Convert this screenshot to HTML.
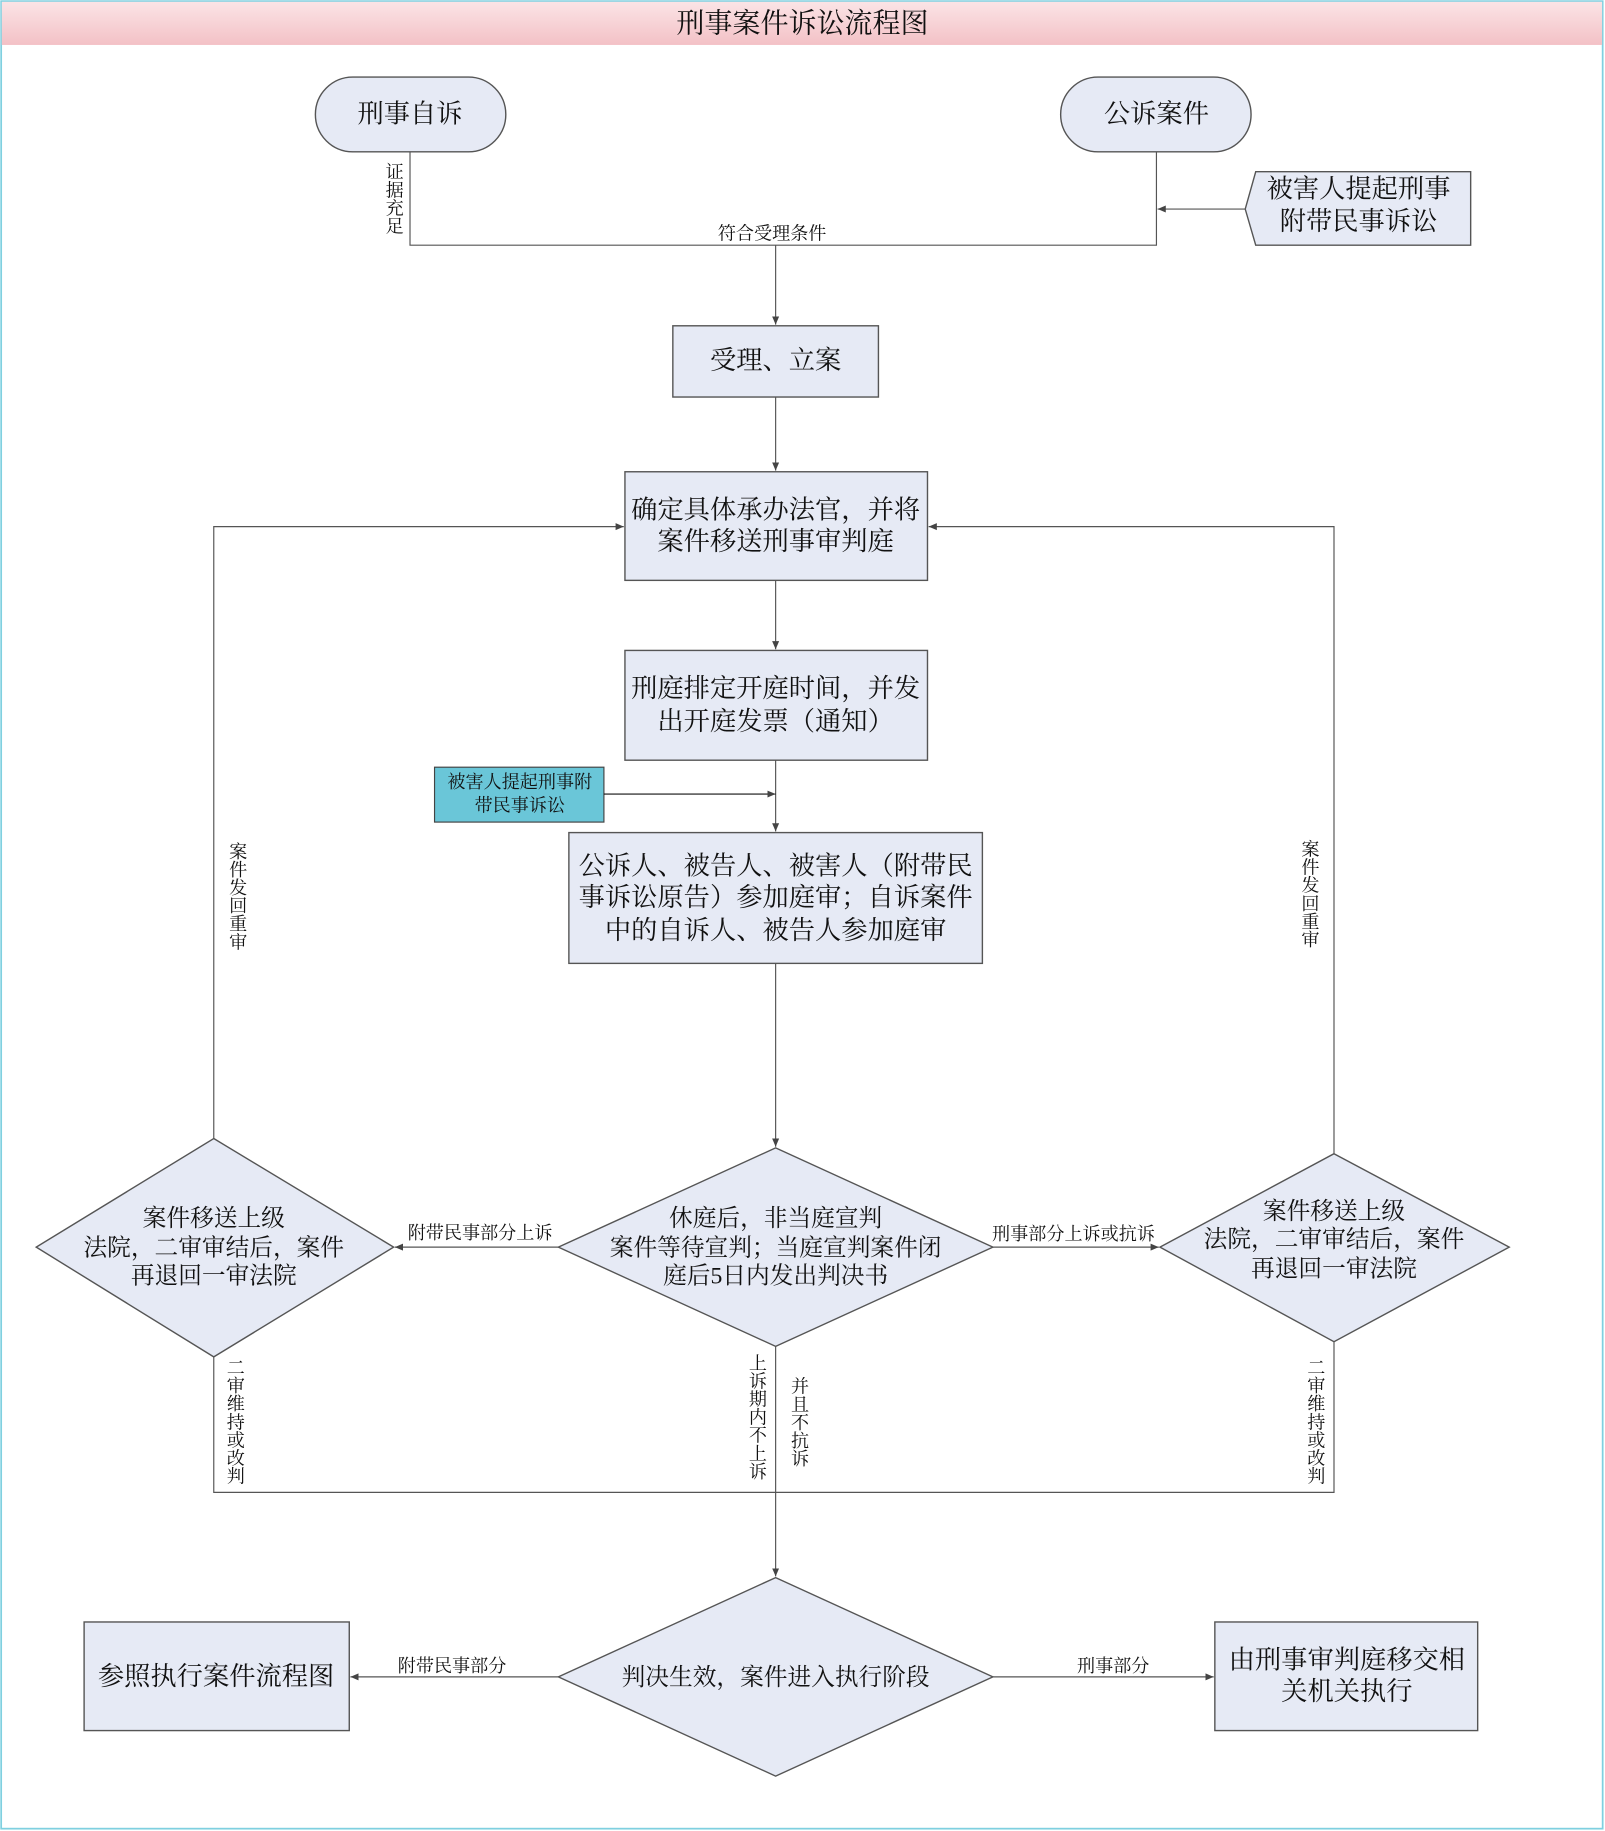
<!DOCTYPE html>
<html><head><meta charset="utf-8"><style>
html,body{margin:0;padding:0;background:#fff;}
svg{display:block}
text{font-family:"Liberation Serif","Noto Serif CJK SC",serif;fill:#111;}
.v{writing-mode:tb;letter-spacing:0px}
</style></head><body>
<svg width="1605" height="1831" viewBox="0 0 1374 1568" preserveAspectRatio="none" xmlns="http://www.w3.org/2000/svg">
<defs>
<linearGradient id="g" x1="0" y1="0" x2="0" y2="1"><stop offset="0" stop-color="#fbe4e6"/><stop offset="1" stop-color="#f3c1c6"/></linearGradient>
<marker id="a" markerWidth="8" markerHeight="8" refX="7" refY="4" orient="auto" markerUnits="userSpaceOnUse"><path d="M0,1 L7,4 L0,7 Z" fill="#444"/></marker>
</defs>
<rect x="1" y="1" width="1371" height="1565" fill="#fff" stroke="#7fd0e0" stroke-width="1.5"/>
<rect x="1.5" y="1.5" width="1370" height="37" fill="url(#g)"/>
<text x="687" y="28" font-size="24" text-anchor="middle">刑事案件诉讼流程图</text>

<g fill="#e6eaf5" stroke="#555" stroke-width="1.2">
<rect x="270" y="66" width="163" height="64" rx="32"/>
<rect x="908" y="66" width="163" height="64" rx="32"/>
<polygon points="1066,179 1075,147 1259,147 1259,210 1075,210"/>
<rect x="576" y="279" width="176" height="61"/>
<rect x="535" y="404" width="259" height="93"/>
<rect x="535" y="557" width="259" height="94"/>
<rect x="487" y="713" width="354" height="112"/>
<polygon points="664,983 850,1068 664,1153 478,1068"/>
<polygon points="183,975 337,1068 183,1162 31,1068"/>
<polygon points="1142,988 1292,1068 1142,1149 993,1068"/>
<polygon points="664,1351 850,1436 664,1521 478,1436"/>
<rect x="72" y="1389" width="227" height="93"/>
<rect x="1040" y="1389" width="225" height="93"/>
</g>
<rect x="372" y="657" width="145" height="47" fill="#6ac6d8" stroke="#444" stroke-width="1"/>

<g fill="none" stroke="#555" stroke-width="1">
<polyline points="351,130 351,210 990,210 990,130"/>
<line x1="1066" y1="179" x2="991" y2="179" marker-end="url(#a)"/>
<line x1="664" y1="210" x2="664" y2="278" marker-end="url(#a)"/>
<line x1="664" y1="340" x2="664" y2="403" marker-end="url(#a)"/>
<line x1="664" y1="497" x2="664" y2="556" marker-end="url(#a)"/>
<line x1="664" y1="651" x2="664" y2="712" marker-end="url(#a)"/>
<line x1="517" y1="680" x2="664" y2="680" stroke="#111" marker-end="url(#a)"/>
<line x1="664" y1="825" x2="664" y2="982" marker-end="url(#a)"/>
<line x1="478" y1="1068" x2="338" y2="1068" marker-end="url(#a)"/>
<line x1="850" y1="1068" x2="992" y2="1068" marker-end="url(#a)"/>
<polyline points="183,975 183,451 534,451" marker-end="url(#a)"/>
<polyline points="1142,988 1142,451 795,451" marker-end="url(#a)"/>
<polyline points="183,1162 183,1278 1142,1278 1142,1149"/>
<line x1="664" y1="1153" x2="664" y2="1350" marker-end="url(#a)"/>
<line x1="478" y1="1436" x2="300" y2="1436" marker-end="url(#a)"/>
<line x1="850" y1="1436" x2="1039" y2="1436" marker-end="url(#a)"/>
</g>

<g font-size="22.5" text-anchor="middle">
<text x="351" y="105">刑事自诉</text>
<text x="990" y="105">公诉案件</text>
<text x="1163" y="169">被害人提起刑事</text>
<text x="1163" y="197">附带民事诉讼</text>
<text x="664" y="316">受理、立案</text>
<text x="664" y="444">确定具体承办法官，并将</text>
<text x="664" y="471">案件移送刑事审判庭</text>
<text x="664" y="597">刑庭排定开庭时间，并发</text>
<text x="664" y="625">出开庭发票（通知）</text>
<text x="664" y="749">公诉人、被告人、被害人（附带民</text>
<text x="664" y="776">事诉讼原告）参加庭审；自诉案件</text>
<text x="664" y="804">中的自诉人、被告人参加庭审</text>
<text x="185" y="1443">参照执行案件流程图</text>
<text x="1153" y="1429">由刑事审判庭移交相</text>
<text x="1153" y="1456">关机关执行</text>
</g>
<g font-size="20.3" text-anchor="middle">
<text x="664" y="1050">休庭后，非当庭宣判</text>
<text x="664" y="1075">案件等待宣判；当庭宣判案件闭</text>
<text x="664" y="1099">庭后5日内发出判决书</text>
<text x="183" y="1050">案件移送上级</text>
<text x="183" y="1075">法院，二审审结后，案件</text>
<text x="183" y="1099">再退回一审法院</text>
<text x="1142" y="1044">案件移送上级</text>
<text x="1142" y="1068">法院，二审审结后，案件</text>
<text x="1142" y="1093">再退回一审法院</text>
<text x="664" y="1443">判决生效，案件进入执行阶段</text>
</g>
<g font-size="15.5" text-anchor="middle">
<text x="445" y="675">被害人提起刑事附</text>
<text x="445" y="695">带民事诉讼</text>
<text x="661" y="205">符合受理条件</text>
<text x="411" y="1061">附带民事部分上诉</text>
<text x="919" y="1062">刑事部分上诉或抗诉</text>
<text x="387" y="1432">附带民事部分</text>
<text x="953" y="1432">刑事部分</text>
</g>
<g font-size="15.5">
<text class="v" x="337" y="139">证据充足</text>
<text class="v" x="203" y="721">案件发回重审</text>
<text class="v" x="1121" y="719">案件发回重审</text>
<text class="v" x="201" y="1163">二审维持或改判</text>
<text class="v" x="1126" y="1163">二审维持或改判</text>
<text class="v" x="648" y="1159">上诉期内不上诉</text>
<text class="v" x="684" y="1179">并且不抗诉</text>
</g>
</svg>
</body></html>
